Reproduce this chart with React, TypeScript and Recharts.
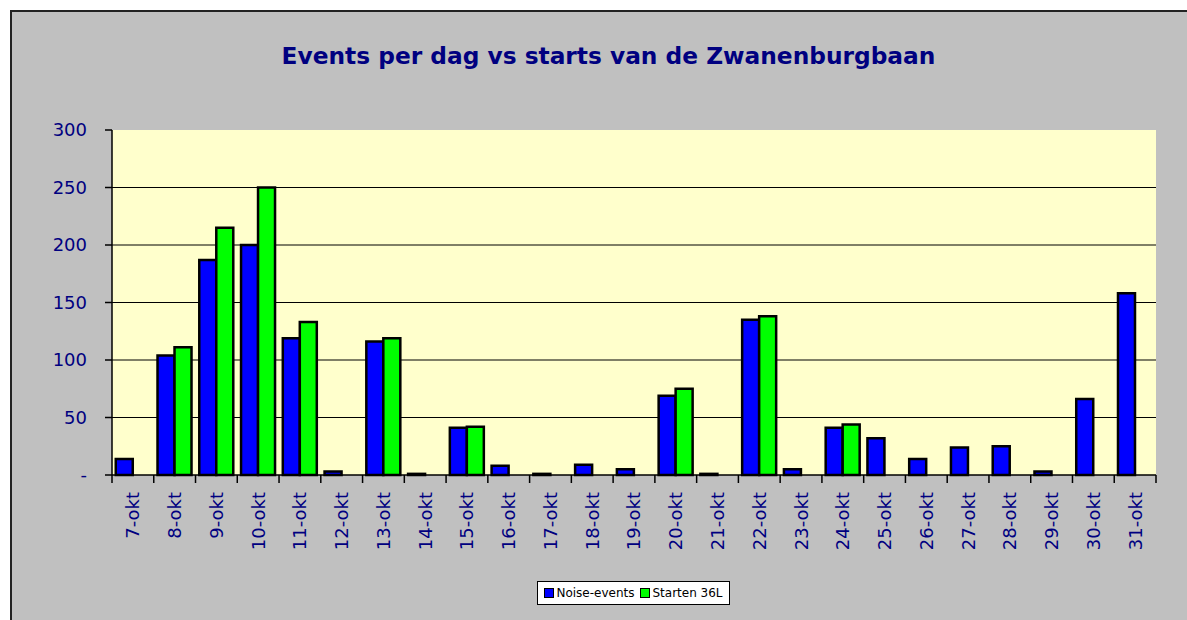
import { Bar, BarChart, CartesianGrid, ReferenceArea, XAxis, YAxis } from 'recharts';

const days = [
  '7-okt', '8-okt', '9-okt', '10-okt', '11-okt', '12-okt', '13-okt', '14-okt', '15-okt',
  '16-okt', '17-okt', '18-okt', '19-okt', '20-okt', '21-okt', '22-okt', '23-okt', '24-okt',
  '25-okt', '26-okt', '27-okt', '28-okt', '29-okt', '30-okt', '31-okt',
];
const noiseEvents = [14, 104, 187, 200, 119, 3, 116, 1, 41, 8, 1, 9, 5, 69, 1, 135, 5, 41, 32, 14, 24, 25, 3, 66, 158];
const starten36L = [null, 111, 215, 250, 133, null, 119, null, 42, null, null, null, null, 75, null, 138, null, 44, null, null, null, null, null, null, null];
const yTicks = [0, 50, 100, 150, 200, 250, 300];
const gridValues = [50, 100, 150, 200, 250];

const data = days.map((day, i) => ({ day, noise: noiseEvents[i], starts: starten36L[i] }));

const navy = '#000080';
const font = '"DejaVu Sans", Tahoma, sans-serif';

interface DayTickProps {
  x?: number;
  y?: number;
  index?: number;
  payload?: { value: string; offset?: number };
}

// rotated day label plus Excel-style tick marks between the categories
const DayTick = ({ x = 0, y = 0, index = 0, payload }: DayTickProps) => {
  const half = payload?.offset ?? 0;
  const ty = y + 17;
  return (
    <g>
      <line x1={x - half} x2={x - half} y1={y} y2={y + 8} stroke="#000" strokeWidth={1.5} />
      {index === days.length - 1 && (
        <line x1={x + half} x2={x + half} y1={y} y2={y + 8} stroke="#000" strokeWidth={1.5} />
      )}
      <text
        x={x}
        y={ty}
        transform={`rotate(-90 ${x} ${ty})`}
        textAnchor="end"
        dy="0.36em"
        fill={navy}
        fontSize={18}
        fontFamily={font}
      >
        {payload?.value}
      </text>
    </g>
  );
};

export default function App() {
  return (
    <div style={{ position: 'absolute', left: 0, top: 0, width: 1187, height: 620, background: '#fff', overflow: 'hidden' }}>
      <div
        style={{
          position: 'absolute',
          left: 10,
          top: 10,
          width: 1200,
          height: 640,
          background: '#C0C0C0',
          border: '2px solid #222',
          boxSizing: 'border-box',
        }}
      />
      <div
        style={{
          position: 'absolute',
          left: 10,
          top: 42,
          width: 1197,
          textAlign: 'center',
          color: navy,
          fontFamily: font,
          fontWeight: 'bold',
          fontSize: 23.3,
        }}
      >
        Events per dag vs starts van de Zwanenburgbaan
      </div>
      <div style={{ position: 'absolute', left: 0, top: 0 }}>
        <BarChart
          width={1187}
          height={620}
          data={data}
          margin={{ top: 130, right: 31, left: 0, bottom: 0 }}
          barCategoryGap="9%"
          barGap={0}
        >
          <CartesianGrid
            horizontal
            vertical={false}
            horizontalValues={gridValues}
            stroke="#000"
            strokeWidth={1}
            fill="#FFFFCC"
          />
          <XAxis xAxisId="edges" type="number" domain={[0, days.length]} hide />
          <XAxis
            xAxisId="days"
            dataKey="day"
            interval={0}
            tickLine={false}
            tickSize={0}
            tickMargin={0}
            stroke="#000"
            strokeWidth={1.5}
            height={145}
            tick={<DayTick />}
          />
          <YAxis
            domain={[0, 300]}
            ticks={yTicks}
            width={112}
            tickSize={7}
            tickMargin={18}
            stroke="#000"
            strokeWidth={1.5}
            tick={{ fill: navy, fontSize: 18, fontFamily: font }}
            tickFormatter={(v: number) => (v === 0 ? '-' : String(v))}
          />
          <ReferenceArea
            xAxisId="edges"
            x1={0}
            x2={days.length}
            y1={0}
            y2={300}
            fill="none"
            stroke="#808080"
            strokeWidth={2}
          />
          <Bar xAxisId="days" dataKey="noise" name="Noise-events" fill="#0000FF" stroke="#000" strokeWidth={2.5} isAnimationActive={false} />
          <Bar xAxisId="days" dataKey="starts" name="Starten 36L" fill="#00FF00" stroke="#000" strokeWidth={2.5} isAnimationActive={false} />
        </BarChart>
      </div>
      <div
        style={{
          position: 'absolute',
          left: 537,
          top: 581,
          width: 193,
          height: 24,
          boxSizing: 'border-box',
          background: '#fff',
          border: '1px solid #000',
          display: 'flex',
          alignItems: 'center',
          justifyContent: 'center',
          gap: 6,
          fontFamily: font,
          fontSize: 12,
          color: '#000',
        }}
      >
        {[
          { label: 'Noise-events', color: '#0000FF' },
          { label: 'Starten 36L', color: '#00FF00' },
        ].map((item) => (
          <span key={item.label} style={{ display: 'flex', alignItems: 'center', gap: 2 }}>
            <span style={{ width: 8, height: 8, background: item.color, border: '1.5px solid #000', display: 'inline-block' }} />
            {item.label}
          </span>
        ))}
      </div>
    </div>
  );
}
